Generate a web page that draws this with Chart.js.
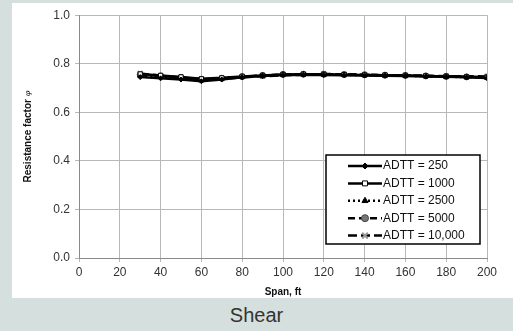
<!DOCTYPE html>
<html>
<head>
<meta charset="utf-8">
<script src="https://cdn.jsdelivr.net/npm/chart.js@4.4.1/dist/chart.umd.min.js"></script>
<style>
  html, body { margin: 0; padding: 0; }
  body { width: 513px; height: 331px; background: #d5dfdd; position: relative; overflow: hidden; font-family: "Liberation Sans", Arial, sans-serif; }
  #panel { position: absolute; left: 12px; top: 3px; width: 501px; height: 295px; background: #fff; }
  #caption { position: absolute; left: 0; width: 513px; top: 304px; text-align: center; font-size: 20px; color: #333; }
</style>
</head>
<body>
<div id="panel"><canvas id="chart" width="501" height="295"></canvas></div>
<div id="caption">Shear</div>
<script>
// Span values (ft)
const spans = [30, 40, 50, 60, 70, 80, 90, 100, 110, 120, 130, 140, 150, 160, 170, 180, 190, 200];
// Resistance factor per ADTT
const adtt250 = [0.745, 0.740, 0.735, 0.728, 0.735, 0.744, 0.750, 0.754, 0.755, 0.754, 0.753, 0.752, 0.751, 0.750, 0.748, 0.746, 0.744, 0.741];
const adtt1000 = [0.758, 0.752, 0.746, 0.738, 0.742, 0.748, 0.752, 0.756, 0.757, 0.756, 0.755, 0.754, 0.753, 0.752, 0.750, 0.748, 0.746, 0.744];
const adtt2500 = [0.752, 0.747, 0.742, 0.734, 0.739, 0.746, 0.751, 0.755, 0.756, 0.755, 0.754, 0.753, 0.752, 0.751, 0.749, 0.747, 0.745, 0.743];
const adtt5000 = [0.755, 0.750, 0.744, 0.736, 0.740, 0.747, 0.752, 0.756, 0.757, 0.757, 0.756, 0.755, 0.753, 0.752, 0.750, 0.748, 0.746, 0.745];
// 10,000 markers only at a few spans
const spans10k = [30, 60, 90, 120, 150, 180, 200];
const adtt10000 = [0.760, 0.733, 0.749, 0.758, 0.753, 0.749, 0.748];

const labels = ["ADTT = 250", "ADTT = 1000", "ADTT = 2500", "ADTT = 5000", "ADTT = 10,000"];
const xTicks = [0, 20, 40, 60, 80, 100, 120, 140, 160, 180, 200];
const yTicks = [0.0, 0.2, 0.4, 0.6, 0.8, 1.0];

function toPoints(xs, ys) {
    return xs.map((x, i) => ({ x: x, y: ys[i] }));
}

// Legend drawn inside the plot (bottom right), like the original
const boxLegend = {
    id: 'boxLegend',
    afterDraw(chart) {
        const ctx = chart.ctx;
        const x0 = 314, y0 = 152, w = 154, h = 89;
        ctx.save();
        ctx.fillStyle = '#fff';
        ctx.fillRect(x0, y0, w, h);
        ctx.strokeStyle = '#000';
        ctx.lineWidth = 1.5;
        ctx.strokeRect(x0, y0, w, h);
        chart.data.datasets.forEach((ds, i) => {
            const cy = y0 + 11 + i * 17.4;
            ctx.strokeStyle = ds.borderColor;
            ctx.lineWidth = ds.borderWidth;
            ctx.setLineDash(ds.borderDash || []);
            ctx.beginPath();
            ctx.moveTo(x0 + 22, cy);
            ctx.lineTo(x0 + 56, cy);
            ctx.stroke();
            ctx.setLineDash([]);
            ctx.fillStyle = ds.pointBackgroundColor;
            ctx.strokeStyle = ds.pointBorderColor;
            ctx.lineWidth = ds.pointBorderWidth;
            Chart.helpers.drawPoint(ctx, {
                pointStyle: ds.pointStyle,
                radius: ds.pointRadius + 0.5,
                borderWidth: ds.pointBorderWidth
            }, x0 + 39, cy);
            ctx.fillStyle = '#111';
            ctx.font = '12px "Liberation Sans", Arial, sans-serif';
            ctx.textBaseline = 'middle';
            ctx.fillText(labels[i], x0 + 57, cy);
        });
        ctx.restore();
    }
};

// Y title with italic phi
const yTitle = {
    id: 'yTitle',
    afterDraw(chart) {
        const ctx = chart.ctx;
        const area = chart.chartArea;
        ctx.save();
        ctx.translate(16, (area.top + area.bottom) / 2);
        ctx.rotate(-Math.PI / 2);
        ctx.fillStyle = '#111';
        ctx.textBaseline = 'middle';
        const main = 'Resistance factor ';
        ctx.font = 'bold 10px "Liberation Sans", Arial, sans-serif';
        const w1 = ctx.measureText(main).width;
        ctx.font = 'italic 8px "DejaVu Serif", serif';
        const w2 = ctx.measureText('φ').width;
        const start = -(w1 + w2) / 2;
        ctx.font = 'bold 10px "Liberation Sans", Arial, sans-serif';
        ctx.textAlign = 'left';
        ctx.fillText(main, start, 0);
        ctx.font = 'italic 8px "DejaVu Serif", serif';
        ctx.fillText('φ', start + w1, 0);
        ctx.restore();
    }
};

const ctx = document.getElementById('chart').getContext('2d');
const chart = new Chart(ctx, {
    type: 'line',
    data: {
        datasets: [
            {
                label: labels[0],
                data: toPoints(spans, adtt250),
                borderColor: '#000', borderWidth: 2.5,
                pointStyle: 'rectRot', pointRadius: 2.5,
                pointBackgroundColor: '#000', pointBorderColor: '#000', pointBorderWidth: 1,
            },
            {
                label: labels[1],
                data: toPoints(spans, adtt1000),
                borderColor: '#000', borderWidth: 2.5,
                pointStyle: 'rect', pointRadius: 3,
                pointBackgroundColor: '#fff', pointBorderColor: '#000', pointBorderWidth: 1,
            },
            {
                label: labels[2],
                data: toPoints(spans, adtt2500),
                borderColor: '#000', borderWidth: 2.5, borderDash: [2, 3],
                pointStyle: 'triangle', pointRadius: 3,
                pointBackgroundColor: '#000', pointBorderColor: '#000', pointBorderWidth: 1,
            },
            {
                label: labels[3],
                data: toPoints(spans, adtt5000),
                borderColor: '#000', borderWidth: 2.5, borderDash: [7, 4],
                pointStyle: 'circle', pointRadius: 3,
                pointBackgroundColor: '#777', pointBorderColor: '#444', pointBorderWidth: 1,
            },
            {
                label: labels[4],
                data: toPoints(spans10k, adtt10000),
                borderColor: '#000', borderWidth: 2.5, borderDash: [9, 4],
                pointStyle: 'crossRot', pointRadius: 3.5,
                pointBackgroundColor: '#999', pointBorderColor: '#999', pointBorderWidth: 2,
            },
        ],
    },
    options: {
        responsive: false,
        animation: false,
        layout: { padding: { top: 12, right: 26, left: 0, bottom: 0 } },
        plugins: {
            legend: { display: false },
            tooltip: { enabled: false },
        },
        scales: {
            x: {
                type: 'linear',
                min: 0, max: 200,
                afterBuildTicks: (s) => { s.ticks = xTicks.map(v => ({ value: v })); },
                afterFit: (s) => { s.height = 40; },
                grid: { color: '#b8b8b8', lineWidth: 1, tickLength: 4 },
                border: { color: '#8a8a8a', width: 1 },
                ticks: { color: '#333', font: { size: 12, family: '"Liberation Sans", Arial' }, padding: 3, maxRotation: 0 },
                title: { display: true, text: 'Span, ft', color: '#111', font: { size: 10, weight: 'bold', family: '"Liberation Sans", Arial' }, padding: { top: 1, bottom: 0 } },
            },
            y: {
                min: 0, max: 1,
                afterBuildTicks: (s) => { s.ticks = yTicks.map(v => ({ value: v })); },
                afterFit: (s) => { s.width = 67; },
                grid: { color: '#b8b8b8', lineWidth: 1, tickLength: 4 },
                border: { color: '#8a8a8a', width: 1 },
                ticks: { color: '#333', font: { size: 12, family: '"Liberation Sans", Arial' }, padding: 5, callback: (v) => v.toFixed(1) },
            },
        },
    },
    plugins: [boxLegend, yTitle],
});
</script>
</body>
</html>
